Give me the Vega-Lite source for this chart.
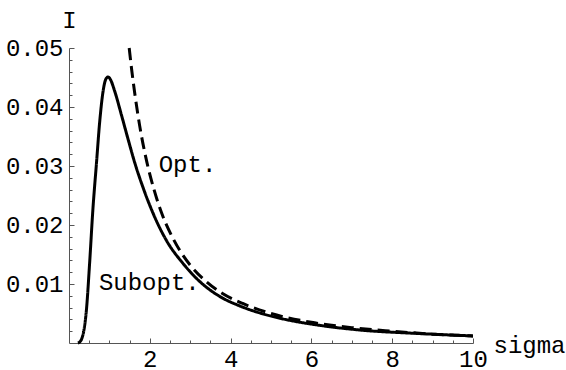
{
  "$schema": "https://vega.github.io/schema/vega-lite/v6.json",
  "width": 404,
  "height": 295,
  "autosize": {"type": "none"},
  "padding": {"left": 69, "top": 48, "right": 93, "bottom": 27},
  "background": "white",
  "config": {
    "view": {"stroke": null},
    "axis": {"labelFont": "Liberation Mono", "titleFont": "Liberation Mono", "labelFontSize": 24, "titleFontSize": 24, "labelColor": "black", "titleColor": "black", "titleFontWeight": "normal", "grid": false, "domainColor": "#555", "tickColor": "#555", "domainWidth": 1, "tickWidth": 1, "labelOverlap": false, "labelFlush": false}
  },
  "datasets": {
    "curves": [
      {"curve": "Subopt.", "sigma": 0.22, "I": 0},
      {"curve": "Subopt.", "sigma": 0.27, "I": 0.0002},
      {"curve": "Subopt.", "sigma": 0.32, "I": 0.0008},
      {"curve": "Subopt.", "sigma": 0.37, "I": 0.0022},
      {"curve": "Subopt.", "sigma": 0.43, "I": 0.0055},
      {"curve": "Subopt.", "sigma": 0.51, "I": 0.0135},
      {"curve": "Subopt.", "sigma": 0.59, "I": 0.0225},
      {"curve": "Subopt.", "sigma": 0.68, "I": 0.0305},
      {"curve": "Subopt.", "sigma": 0.76, "I": 0.0375},
      {"curve": "Subopt.", "sigma": 0.84, "I": 0.0425},
      {"curve": "Subopt.", "sigma": 0.91, "I": 0.0447},
      {"curve": "Subopt.", "sigma": 0.97, "I": 0.0451},
      {"curve": "Subopt.", "sigma": 1.03, "I": 0.0446},
      {"curve": "Subopt.", "sigma": 1.13, "I": 0.0427},
      {"curve": "Subopt.", "sigma": 1.30, "I": 0.0386},
      {"curve": "Subopt.", "sigma": 1.46, "I": 0.0346},
      {"curve": "Subopt.", "sigma": 1.63, "I": 0.0305},
      {"curve": "Subopt.", "sigma": 1.83, "I": 0.0264},
      {"curve": "Subopt.", "sigma": 2.08, "I": 0.0220},
      {"curve": "Subopt.", "sigma": 2.41, "I": 0.0174},
      {"curve": "Subopt.", "sigma": 2.82, "I": 0.0135},
      {"curve": "Subopt.", "sigma": 3.24, "I": 0.0104},
      {"curve": "Subopt.", "sigma": 3.73, "I": 0.0079},
      {"curve": "Subopt.", "sigma": 4.22, "I": 0.0063},
      {"curve": "Subopt.", "sigma": 4.72, "I": 0.0051},
      {"curve": "Subopt.", "sigma": 5.22, "I": 0.0042},
      {"curve": "Subopt.", "sigma": 6.2, "I": 0.0030},
      {"curve": "Subopt.", "sigma": 7.2, "I": 0.0022},
      {"curve": "Subopt.", "sigma": 8.68, "I": 0.0016},
      {"curve": "Subopt.", "sigma": 10, "I": 0.0012},
      {"curve": "Opt.", "sigma": 1.49, "I": 0.0500},
      {"curve": "Opt.", "sigma": 1.55, "I": 0.0464},
      {"curve": "Opt.", "sigma": 1.63, "I": 0.0422},
      {"curve": "Opt.", "sigma": 1.75, "I": 0.0368},
      {"curve": "Opt.", "sigma": 1.9, "I": 0.0315},
      {"curve": "Opt.", "sigma": 2.1, "I": 0.0261},
      {"curve": "Opt.", "sigma": 2.3, "I": 0.0219},
      {"curve": "Opt.", "sigma": 2.6, "I": 0.0174},
      {"curve": "Opt.", "sigma": 3.0, "I": 0.0132},
      {"curve": "Opt.", "sigma": 3.4, "I": 0.0104},
      {"curve": "Opt.", "sigma": 3.8, "I": 0.0084},
      {"curve": "Opt.", "sigma": 4.3, "I": 0.0067},
      {"curve": "Opt.", "sigma": 5, "I": 0.0050},
      {"curve": "Opt.", "sigma": 6, "I": 0.0035},
      {"curve": "Opt.", "sigma": 7, "I": 0.0026},
      {"curve": "Opt.", "sigma": 8, "I": 0.0020},
      {"curve": "Opt.", "sigma": 9, "I": 0.0015},
      {"curve": "Opt.", "sigma": 10, "I": 0.0012}
    ],
    "labels": [
      {"label": "Opt.", "sigma": 2.22, "I": 0.0301},
      {"label": "Subopt.", "sigma": 0.74, "I": 0.0101}
    ]
  },
  "resolve": {"axis": {"x": "independent", "y": "independent"}},
  "layer": [
    {
      "data": {"name": "curves"},
      "mark": {"type": "line", "interpolate": "monotone", "strokeWidth": 3, "color": "black"},
      "encoding": {
        "x": {
          "field": "sigma", "type": "quantitative",
          "scale": {"domain": [0, 10], "nice": false, "zero": false},
          "axis": {
            "orient": "bottom",
            "title": "sigma",
            "titleX": 424, "titleY": 2, "titleAlign": "left", "titleBaseline": "middle",
            "values": [2, 4, 6, 8, 10],
            "format": "d",
            "tickSize": -5,
            "labelPadding": 9
          }
        },
        "y": {
          "field": "I", "type": "quantitative",
          "scale": {"domain": [0, 0.05], "nice": false},
          "axis": {
            "orient": "left",
            "title": "I",
            "titleAngle": 0, "titleX": 0, "titleY": -28, "titleAlign": "center", "titleBaseline": "middle",
            "values": [0.01, 0.02, 0.03, 0.04, 0.05],
            "format": ".2f",
            "tickSize": -5,
            "labelPadding": 11
          }
        },
        "strokeDash": {
          "field": "curve", "type": "nominal",
          "scale": {"domain": ["Subopt.", "Opt."], "range": [[1, 0], [12, 6]]},
          "legend": null
        }
      }
    },
    {
      "data": {"name": "labels"},
      "mark": {"type": "text", "font": "Liberation Mono", "fontSize": 24, "align": "left", "baseline": "middle", "color": "black"},
      "encoding": {
        "x": {
          "field": "sigma", "type": "quantitative",
          "scale": {"domain": [0, 10], "nice": false, "zero": false},
          "axis": {
            "orient": "bottom", "title": null, "labels": false, "domain": false,
            "values": [0.5, 1, 1.5, 2.5, 3, 3.5, 4.5, 5, 5.5, 6.5, 7, 7.5, 8.5, 9, 9.5],
            "tickSize": -3
          }
        },
        "y": {
          "field": "I", "type": "quantitative",
          "scale": {"domain": [0, 0.05], "nice": false},
          "axis": {
            "orient": "left", "title": null, "labels": false, "domain": false,
            "values": [0.002, 0.004, 0.006, 0.008, 0.012, 0.014, 0.016, 0.018, 0.022, 0.024, 0.026, 0.028, 0.032, 0.034, 0.036, 0.038, 0.042, 0.044, 0.046, 0.048],
            "tickSize": -3
          }
        },
        "text": {"field": "label"}
      }
    }
  ]
}
